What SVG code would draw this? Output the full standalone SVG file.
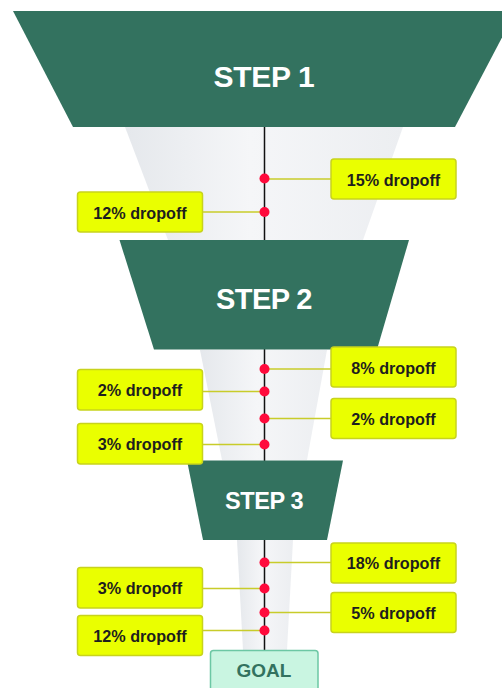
<svg xmlns="http://www.w3.org/2000/svg" width="502" height="688" viewBox="0 0 502 688">
<style>
.step{fill:#33725f}
.steptxt{font-family:"Liberation Sans",Arial,sans-serif;font-weight:bold;fill:#ffffff;text-anchor:middle}
.box{fill:#eaff00;stroke:#c8d31c;stroke-width:1.5}
.btxt{font-family:"Liberation Sans",Arial,sans-serif;font-weight:bold;font-size:16.2px;fill:#1e1e1e;text-anchor:middle}
.conn{stroke:#c8cc2a;stroke-width:1.5;fill:none}
.dot{fill:#ff0a3c}
.shade{fill:url(#sg)}
</style>
<defs>
<linearGradient id="sg" x1="0" y1="0" x2="1" y2="0">
<stop offset="0" stop-color="#e5e8ec"/>
<stop offset="0.45" stop-color="#f5f6f8"/>
<stop offset="1" stop-color="#eceef1"/>
</linearGradient>
</defs>
<g id="shading">
<polygon class="shade" points="125,127 403,127 363,240 168,240"/>
<polygon class="shade" points="200,350 327,350 307,460 222,460"/>
<polygon class="shade" points="237,540 293,540 287,650 243,650"/>
</g>
<g id="connectors">
<line x1="264.5" y1="127" x2="264.5" y2="650" stroke="#111" stroke-width="1.5"/>
<line class="conn" x1="264.5" y1="179" x2="331" y2="179"/>
<line class="conn" x1="202" y1="212" x2="264.5" y2="212"/>
<line class="conn" x1="264.5" y1="369" x2="331" y2="369"/>
<line class="conn" x1="202" y1="391.5" x2="264.5" y2="391.5"/>
<line class="conn" x1="264.5" y1="418.5" x2="331" y2="418.5"/>
<line class="conn" x1="202" y1="444.5" x2="264.5" y2="444.5"/>
<line class="conn" x1="264.5" y1="562.5" x2="331" y2="562.5"/>
<line class="conn" x1="202" y1="588.5" x2="264.5" y2="588.5"/>
<line class="conn" x1="264.5" y1="612.5" x2="331" y2="612.5"/>
<line class="conn" x1="202" y1="630.5" x2="264.5" y2="630.5"/>
<circle class="dot" cx="264.5" cy="178.5" r="5"/>
<circle class="dot" cx="264.5" cy="212" r="5"/>
<circle class="dot" cx="264.5" cy="369" r="5"/>
<circle class="dot" cx="264.5" cy="391.5" r="5"/>
<circle class="dot" cx="264.5" cy="418.5" r="5"/>
<circle class="dot" cx="264.5" cy="444.5" r="5"/>
<circle class="dot" cx="264.5" cy="562.5" r="5"/>
<circle class="dot" cx="264.5" cy="588.5" r="5"/>
<circle class="dot" cx="264.5" cy="612.5" r="5"/>
<circle class="dot" cx="264.5" cy="630.5" r="5"/>
</g>
<g id="step1">
<polygon class="step" points="13,11 516,11 455,127 73,127"/>
<text class="steptxt" x="264" y="87" font-size="30" letter-spacing="-0.3">STEP 1</text>
</g>
<g id="step2">
<polygon class="step" points="119.5,240 409,240 377,349.5 154,349.5"/>
<text class="steptxt" x="264" y="309" font-size="29" letter-spacing="-0.6">STEP 2</text>
</g>
<g id="step3">
<polygon class="step" points="187,460.5 343,460.5 327,540 203,540"/>
<text class="steptxt" x="264" y="509" font-size="23.5" letter-spacing="-0.4">STEP 3</text>
</g>
<g id="goal">
<rect x="210.5" y="650.5" width="107.5" height="50" rx="3" fill="#c9f5e1" stroke="#6cc7a4" stroke-width="1.5"/>
<text x="264" y="677" font-family="Liberation Sans,Arial,sans-serif" font-weight="bold" font-size="19" fill="#33725f" text-anchor="middle">GOAL</text>
</g>
<g id="d15">
<rect class="box" x="331" y="159" width="125" height="40" rx="3"/>
<text class="btxt" x="393.5" y="185.5">15% dropoff</text>
</g>
<g id="d12a">
<rect class="box" x="77.5" y="192" width="125" height="40" rx="3"/>
<text class="btxt" x="140" y="218.5">12% dropoff</text>
</g>
<g id="d8">
<rect class="box" x="331" y="347" width="125" height="40" rx="3"/>
<text class="btxt" x="393.5" y="373.5">8% dropoff</text>
</g>
<g id="d2a">
<rect class="box" x="77.5" y="369.5" width="125" height="40.5" rx="3"/>
<text class="btxt" x="140" y="396">2% dropoff</text>
</g>
<g id="d2b">
<rect class="box" x="331" y="398.5" width="125" height="40" rx="3"/>
<text class="btxt" x="393.5" y="424.5">2% dropoff</text>
</g>
<g id="d3a">
<rect class="box" x="77.5" y="423.5" width="125" height="40.5" rx="3"/>
<text class="btxt" x="140" y="450">3% dropoff</text>
</g>
<g id="d18">
<rect class="box" x="331" y="543" width="125" height="40" rx="3"/>
<text class="btxt" x="393.5" y="569">18% dropoff</text>
</g>
<g id="d3b">
<rect class="box" x="77.5" y="567.5" width="125" height="40.5" rx="3"/>
<text class="btxt" x="140" y="594">3% dropoff</text>
</g>
<g id="d5">
<rect class="box" x="331" y="592.5" width="125" height="40" rx="3"/>
<text class="btxt" x="393.5" y="618.5">5% dropoff</text>
</g>
<g id="d12b">
<rect class="box" x="77.5" y="615.5" width="125" height="40" rx="3"/>
<text class="btxt" x="140" y="641.5">12% dropoff</text>
</g>
</svg>
